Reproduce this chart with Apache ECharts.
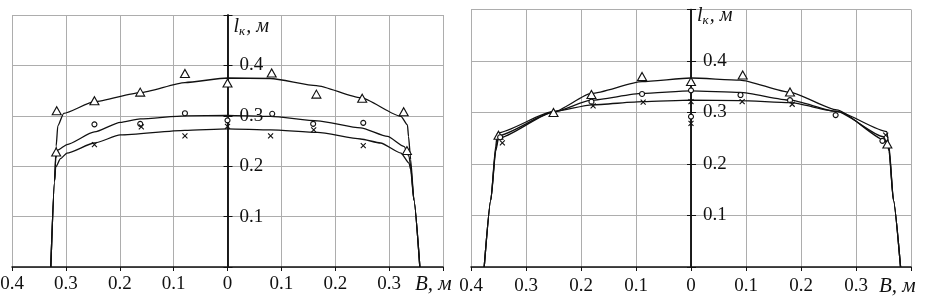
<!DOCTYPE html>
<html>
<head>
<meta charset="utf-8">
<script src="https://cdn.jsdelivr.net/npm/echarts@6/dist/echarts.min.js"></script>
<style>
  html, body { margin: 0; padding: 0; background: #fff; }
  #chart { width: 928px; height: 298px; }
</style>
</head>
<body>
<div id="chart"></div>
<script>
// left panel: measured points [B, l_k]
var leftTri = [[-0.317, 0.310], [-0.318, 0.228], [-0.247, 0.330], [-0.162, 0.347], [-0.079, 0.384], [0, 0.365],
  [0.082, 0.385], [0.165, 0.343], [0.250, 0.335], [0.327, 0.308], [0.333, 0.231]];
var leftCirc = [[-0.247, 0.283], [-0.162, 0.284], [-0.079, 0.305], [0, 0.291], [0.083, 0.304], [0.159, 0.284], [0.252, 0.286]];
var leftCross = [[-0.247, 0.243], [-0.160, 0.278], [-0.079, 0.260], [0, 0.279], [0.080, 0.260], [0.160, 0.272], [0.252, 0.241]];

// left panel: fitted curves
var leftTriCurve = [[-0.328, 0], [-0.321, 0.17], [-0.318, 0.24], [-0.315, 0.28], [-0.304, 0.305], [-0.247, 0.328],
  [-0.162, 0.346], [-0.079, 0.366], [0, 0.375], [0.08, 0.374], [0.165, 0.360], [0.247, 0.336], [0.322, 0.299],
  [0.334, 0.282], [0.336, 0.259], [0.340, 0.213], [0.346, 0.133], [0.357, 0]];
var leftCircCurve = [[-0.328, 0], [-0.321, 0.17], [-0.319, 0.215], [-0.315, 0.232], [-0.298, 0.243], [-0.247, 0.268],
  [-0.199, 0.287], [-0.162, 0.294], [-0.079, 0.300], [0, 0.301], [0.08, 0.299], [0.167, 0.290], [0.247, 0.276],
  [0.297, 0.259], [0.328, 0.239], [0.337, 0.219], [0.340, 0.200], [0.346, 0.133], [0.357, 0]];
var leftCrossCurve = [[-0.328, 0], [-0.321, 0.17], [-0.319, 0.198], [-0.310, 0.215], [-0.298, 0.226], [-0.247, 0.246],
  [-0.199, 0.262], [-0.079, 0.271], [0, 0.274], [0.08, 0.272], [0.167, 0.267], [0.247, 0.254], [0.284, 0.246],
  [0.322, 0.226], [0.337, 0.206], [0.340, 0.193], [0.346, 0.133], [0.357, 0]];

// right panel: measured points
var rightTri = [[-0.350, 0.256], [-0.250, 0.300], [-0.181, 0.335], [-0.089, 0.370], [0, 0.360], [0.094, 0.373],
  [0.180, 0.340], [0.357, 0.239]];
var rightCirc = [[-0.347, 0.252], [-0.181, 0.321], [-0.089, 0.336], [0, 0.343], [0, 0.292], [0.090, 0.334],
  [0.180, 0.324], [0.263, 0.295], [0.348, 0.245]];
var rightCross = [[-0.343, 0.241], [-0.178, 0.313], [-0.087, 0.320], [0, 0.321], [0, 0.279], [0.093, 0.321],
  [0.184, 0.316], [0.354, 0.256]];

// right panel: fitted curves
var rightTriCurve = [[-0.376, 0], [-0.364, 0.13], [-0.355, 0.225], [-0.350, 0.250], [-0.250, 0.301],
  [-0.181, 0.337], [-0.089, 0.360], [0, 0.367], [0.089, 0.363], [0.18, 0.339], [0.265, 0.305],
  [0.356, 0.244], [0.360, 0.225], [0.368, 0.13], [0.381, 0]];
var rightCircCurve = [[-0.376, 0], [-0.364, 0.13], [-0.355, 0.230], [-0.350, 0.255], [-0.250, 0.301],
  [-0.181, 0.324], [-0.089, 0.337], [0, 0.342], [0.089, 0.339], [0.18, 0.324], [0.265, 0.302], [0.35, 0.253],
  [0.360, 0.230], [0.368, 0.13], [0.381, 0]];
var rightCrossCurve = [[-0.376, 0], [-0.364, 0.13], [-0.355, 0.235], [-0.352, 0.260], [-0.250, 0.302],
  [-0.180, 0.315], [-0.087, 0.321], [0, 0.324], [0.089, 0.323], [0.18, 0.319], [0.265, 0.302], [0.356, 0.263],
  [0.360, 0.235], [0.368, 0.13], [0.381, 0]];

var FONT = 'Liberation Serif';
var INK = '#111';
var GRIDC = '#adadad';

var grids = [
  { left: 12, top: 15, width: 431, height: 252, outerBoundsMode: 'none' },
  { left: 471, top: 9.5, width: 440, height: 257.5, outerBoundsMode: 'none' }
];

function xAxisFor(grid, gap) {
  return {
    type: 'value', gridIndex: grid, min: -0.4, max: 0.4, interval: 0.1,
    name: 'B, м', nameLocation: 'end', nameGap: gap,
    nameTextStyle: { fontFamily: FONT, fontSize: 21, fontStyle: 'italic', color: INK, align: 'left', verticalAlign: 'top', padding: [grid ? 9 : 7, 0, 0, 0] },
    axisLine: { onZero: false, lineStyle: { color: INK, width: 1.5 } },
    axisTick: { length: 4, lineStyle: { color: INK } },
    axisLabel: {
      fontFamily: FONT, fontSize: 19, color: INK, margin: grid ? 10 : 8,
      formatter: function (v) {
        if (v > 0.35) return '';
        return String(Math.abs(+v.toFixed(1)));
      }
    },
    splitLine: { lineStyle: { color: GRIDC, width: 1 } }
  };
}

// main vertical axis: moved from the right edge to B = 0, ticks and labels to the right
function yAxisFor(grid, nameGap) {
  return {
    type: 'value', gridIndex: grid, min: 0, max: 0.5, interval: 0.1,
    position: 'right', offset: -grids[grid].width / 2,
    name: '{i|l}{s|к}{i|, м}', nameLocation: 'end', nameGap: nameGap,
    nameTextStyle: {
      align: 'left', verticalAlign: 'top', padding: [0, 0, 0, 6],
      rich: {
        i: { fontFamily: FONT, fontSize: 20, fontStyle: 'italic', color: INK },
        s: { fontFamily: FONT, fontSize: 13, fontStyle: 'italic', color: INK, padding: [9, 1, 0, 0] }
      }
    },
    axisLine: { onZero: false, lineStyle: { color: INK, width: 1.5 } },
    axisTick: { length: 5, lineStyle: { color: INK } },
    axisLabel: {
      margin: 12, fontFamily: FONT, fontSize: 19, color: INK,
      formatter: function (v) { return (v > 0.05 && v < 0.45) ? v.toFixed(1) : ''; }
    },
    splitLine: { lineStyle: { color: GRIDC, width: 1 } }
  };
}

// second vertical axis per grid: only the tick halves on the left of the center line
function yTickAxis(grid) {
  return {
    type: 'value', gridIndex: grid, min: 0, max: 0.5, interval: 0.1,
    position: 'left', offset: -grids[grid].width / 2,
    axisLine: { onZero: false, lineStyle: { color: INK, width: 1.5 } },
    axisTick: { length: 4, lineStyle: { color: INK } },
    axisLabel: { show: false },
    splitLine: { show: false }
  };
}

function curve(data, xi, yi) {
  return {
    type: 'line', xAxisIndex: xi, yAxisIndex: yi, data: data, showSymbol: false,
    smooth: 0.2, smoothMonotone: 'x',
    lineStyle: { color: INK, width: 1.3 }, z: 3
  };
}

var triSym = 'triangle';
var crossSym = 'path://M0,0L10,10M10,0L0,10';
function points(data, xi, yi, sym, size) {
  return {
    type: 'scatter', xAxisIndex: xi, yAxisIndex: yi, data: data,
    symbol: sym, symbolSize: size,
    itemStyle: { color: '#fff', borderColor: INK, borderWidth: 1.1, opacity: 1 }, z: 4
  };
}

var chart = echarts.init(document.getElementById('chart'));
chart.setOption({
  animation: false,
  backgroundColor: '#fff',
  grid: grids,
  xAxis: [xAxisFor(0, -28), xAxisFor(1, -32)],
  yAxis: [yAxisFor(0, -1), yAxisFor(1, 4.5), yTickAxis(0), yTickAxis(1)],
  series: [
    curve(leftTriCurve, 0, 0),
    curve(leftCircCurve, 0, 0),
    curve(leftCrossCurve, 0, 0),
    points(leftTri, 0, 0, triSym, [9, 8]),
    points(leftCirc, 0, 0, 'circle', 5),
    points(leftCross, 0, 0, crossSym, 5),
    curve(rightTriCurve, 1, 1),
    curve(rightCircCurve, 1, 1),
    curve(rightCrossCurve, 1, 1),
    points(rightTri, 1, 1, triSym, [9, 8]),
    points(rightCirc, 1, 1, 'circle', 5),
    points(rightCross, 1, 1, crossSym, 5)
  ]
});
</script>
</body>
</html>
